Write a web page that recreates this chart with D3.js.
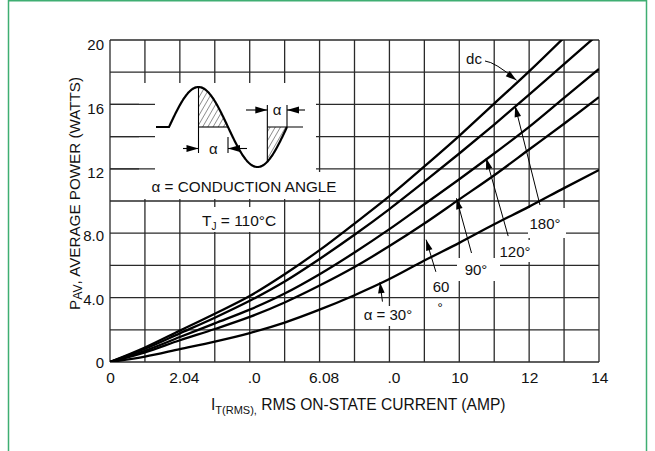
<!DOCTYPE html>
<html><head><meta charset="utf-8">
<script src="https://cdn.jsdelivr.net/npm/d3@7/dist/d3.min.js"></script>
<style>html,body{margin:0;padding:0;background:#fff;} svg{display:block;font-family:"Liberation Sans",Arial,sans-serif;}</style>
</head><body><svg id="chart" width="655" height="451"></svg>
<script>
// ---------- data ----------
const currents = [0,1,2,3,4,5,6,7,8,9,10,11,12,13,14];
const powerDC   = [0,0.9,1.95,3.0,4.1,5.45,6.95,8.6,10.3,12.15,14.05,16.05,18.05,20.15,22.3];
const power180  = [0,0.82,1.78,2.75,3.8,5.0,6.4,7.9,9.5,11.2,12.95,14.75,16.6,18.5,20.4];
const power120  = [0,0.7,1.55,2.4,3.25,4.25,5.45,6.8,8.25,9.8,11.35,12.95,14.6,16.4,18.2];
const power90   = [0,0.6,1.35,2.05,2.8,3.7,4.75,5.9,7.2,8.6,10.1,11.6,13.2,14.8,16.45];
const power30   = [0,0.33,0.8,1.27,1.8,2.45,3.25,4.15,5.15,6.3,7.4,8.55,9.65,10.8,11.93];
const seriesNames = ["dc","180°","120°","90°","α = 30°"];
const xTickValues = [0,2,4,6,8,10,12,14];
const xTickLabels = ["0","2.04",".0","6.08",".0","10","12","14"];
const yTickValues = [0,4,8,12,16,20];
const yTickLabels = ["0","4.0","8.0","12","16","20"];
// annotation arrows: [label, tip x, tip y, tail x, tail y] in data units
const arrowNotes = [
  ["180°", 11.6, 15.9, 12.31, 9.75],
  ["120°", 10.77, 12.65, 11.4, 7.82],
  ["90°",  9.92, 10.17, 10.35, 6.77],
  ["60",   9.05, 7.6,  9.33, 5.6],
  ["α = 30°", 7.73, 4.96, 7.8, 3.75]
];

// ---------- layout ----------
const svg = d3.select("#chart");
const x = d3.scaleLinear().domain([0,14]).range([110,599]);
const y = d3.scaleLinear().domain([0,20]).range([362,40]);
const gridColor = "#2a2a2a";
const ink = "#111";

// outer green frame
svg.append("rect").attr("x",8.5).attr("y",0.75).attr("width",638).attr("height",470)
  .attr("fill","none").attr("stroke","#3fae72").attr("stroke-width",1.5);

// grid
const grid = svg.append("g");
grid.selectAll(".vg").data(d3.range(0,15)).join("line")
  .attr("x1",d=>x(d)).attr("x2",d=>x(d)).attr("y1",y(0)).attr("y2",y(20))
  .attr("stroke",gridColor).attr("stroke-width",1.3);
grid.selectAll(".hg").data(d3.range(0,21,2)).join("line")
  .attr("x1",x(0)).attr("x2",x(14)).attr("y1",d=>y(d)).attr("y2",d=>y(d))
  .attr("stroke",gridColor).attr("stroke-width",1.3);

// white backgrounds (inset & labels) interrupting grid
const wb = svg.append("g").attr("fill","#fff");
wb.append("rect").attr("x",139).attr("y",83).attr("width",177).attr("height",89);
wb.append("rect").attr("x",139).attr("y",172).attr("width",200).attr("height",27);
wb.append("rect").attr("x",196).attr("y",207).attr("width",84).attr("height",25);
wb.append("rect").attr("x",528).attr("y",208).attr("width",38).attr("height",30);
wb.append("rect").attr("x",497).attr("y",240).attr("width",36).attr("height",22);
wb.append("rect").attr("x",457).attr("y",258).attr("width",43).attr("height",23);
wb.append("rect").attr("x",360).attr("y",306).attr("width",56).attr("height",20);
// horizontal stubs sticking into the inset on the left
svg.append("g").selectAll("line").data([16,14,12]).join("line")
  .attr("x1",x(0)).attr("x2",155).attr("y1",d=>y(d)).attr("y2",d=>y(d))
  .attr("stroke",gridColor).attr("stroke-width",1.3);

// curves
svg.append("clipPath").attr("id","plotclip").append("rect")
  .attr("x",x(0)).attr("y",y(20)).attr("width",x(14)-x(0)).attr("height",y(0)-y(20));
const series = [powerDC,power180,power120,power90,power30];
const line = d3.line().x((d,i)=>x(currents[i])).y(d=>y(d)).curve(d3.curveMonotoneX);
svg.append("g").attr("clip-path","url(#plotclip)").selectAll("path").data(series).join("path")
  .attr("d",line).attr("fill","none").attr("stroke","#000").attr("stroke-width",2.3);

// arrowhead helper
function arrowHead(g, tx, ty, fx, fy, len=10, half=3.2){
  const a = Math.atan2(ty-fy, tx-fx);
  const bx = tx - len*Math.cos(a), by = ty - len*Math.sin(a);
  const px = -Math.sin(a)*half, py = Math.cos(a)*half;
  g.append("path").attr("d",`M${tx},${ty}L${bx+px},${by+py}L${bx-px},${by-py}Z`).attr("fill","#000");
}
const ann = svg.append("g");
arrowNotes.forEach(n=>{
  const tx=x(n[1]), ty=y(n[2]), fx=x(n[3]), fy=y(n[4]);
  ann.append("line").attr("x1",fx).attr("y1",fy).attr("x2",tx).attr("y2",ty).attr("stroke","#000").attr("stroke-width",1);
  arrowHead(ann, tx, ty, fx, fy, 11, 3.3);
});
// dc leader
{
  const tx=x(11.64), ty=y(17.5);
  ann.append("path").attr("d",`M485,61 Q495,62 ${tx},${ty}`).attr("fill","none").attr("stroke","#000").attr("stroke-width",1);
  arrowHead(ann, tx, ty, 500, 68, 11, 3.3);
}
const lab = svg.append("g").attr("font-size",15).attr("fill",ink).attr("text-anchor","middle");
lab.append("text").attr("x",474).attr("y",64).text(seriesNames[0]);
lab.append("text").attr("x",545).attr("y",229).text(seriesNames[1]);
lab.append("text").attr("x",515).attr("y",257).text(seriesNames[2]);
lab.append("text").attr("x",476).attr("y",275).text(seriesNames[3]);
lab.append("text").attr("x",441).attr("y",292).text("60");
lab.append("text").attr("x",440).attr("y",312).attr("font-size",13).attr("fill","#000").text("°");
lab.append("text").attr("x",388).attr("y",320).text(seriesNames[4]);

// ---------- inset diagram ----------
const ins = svg.append("g");
const base = 127, xs = 169, P = 118, A = 40;
const sx = ph => xs + P*ph/360;
const sy = ph => base - A*Math.sin(ph*Math.PI/180);
const defs = svg.append("defs");
const pat = defs.append("pattern").attr("id","hatch").attr("patternUnits","userSpaceOnUse")
  .attr("width",4.5).attr("height",4.5).attr("patternTransform","rotate(30)");
pat.append("line").attr("x1",0).attr("y1",0).attr("x2",0).attr("y2",4.5).attr("stroke","#000").attr("stroke-width",0.8);
const shade1 = d3.range(90,181,3).map(p=>[sx(p),sy(p)]);
ins.append("path").attr("d","M"+sx(90)+","+base+"L"+shade1.map(d=>d.join(",")).join("L")+"Z").attr("fill","url(#hatch)");
const shade2 = d3.range(300,361,3).map(p=>[sx(p),sy(p)]);
ins.append("path").attr("d","M"+sx(300)+","+base+"L"+shade2.map(d=>d.join(",")).join("L")+"Z").attr("fill","url(#hatch)");
const wave = d3.range(0,361,2).map(p=>[sx(p),sy(p)]);
ins.append("path").attr("d","M156,"+base+"L"+wave.map(d=>d.join(",")).join("L")).attr("fill","none").attr("stroke","#000").attr("stroke-width",2.2);
const thin = (x1,y1,x2,y2)=>ins.append("line").attr("x1",x1).attr("y1",y1).attr("x2",x2).attr("y2",y2).attr("stroke","#000").attr("stroke-width",1.1);
thin(sx(90),sy(90),sx(90),153); thin(sx(90),base,sx(180),base);
thin(sx(180),137,sx(180),153);
thin(sx(300),105,sx(300),sy(300)); thin(sx(300),base,303,base); thin(sx(360),105,sx(360),base);
// dimension arrows
thin(183,148.5,sx(90),148.5); arrowHead(ins,sx(90),148.5,183,148.5,12,3.6);
thin(247,148.5,sx(180),148.5); arrowHead(ins,sx(180),148.5,247,148.5,12,3.6);
thin(246,110,sx(300),110); arrowHead(ins,sx(300),110,246,110,12,3.6);
thin(305,110,sx(360),110); arrowHead(ins,sx(360),110,305,110,12,3.6);
ins.append("text").attr("x",(sx(90)+sx(180))/2).attr("y",153.5).attr("text-anchor","middle").attr("font-size",15).attr("fill",ink).text("α");
ins.append("text").attr("x",(sx(300)+sx(360))/2).attr("y",114.5).attr("text-anchor","middle").attr("font-size",15).attr("fill",ink).text("α");
ins.append("text").attr("x",151.5).attr("y",192).attr("font-size",15.5).attr("fill",ink)
  .attr("textLength",185).attr("lengthAdjust","spacingAndGlyphs").text("α = CONDUCTION ANGLE");
const tj = ins.append("text").attr("x",202).attr("y",226).attr("font-size",15.5).attr("fill",ink);
tj.append("tspan").text("T");
tj.append("tspan").attr("font-size",10).attr("dy",4).text("J");
tj.append("tspan").attr("dy",-4).text(" = 110°C");

// ---------- axes ----------
const xAxis = d3.axisBottom(x).tickValues(xTickValues).tickSize(0).tickPadding(10)
  .tickFormat((d,i)=>xTickLabels[i]);
const gx = svg.append("g").attr("transform",`translate(0,${y(0)})`).call(xAxis);
gx.select(".domain").remove();
gx.selectAll("text").attr("font-size",15.5).attr("fill",ink).attr("font-family","Liberation Sans, Arial, sans-serif")
  .attr("text-anchor",(d,i)=> i===xTickValues.length-1 ? "end":"middle")
  .attr("dx",(d,i)=> i===xTickValues.length-1 ? 9 : (d>0 && d<10 ? 4 : 0));
const yAxis = d3.axisLeft(y).tickValues(yTickValues).tickSize(0).tickPadding(6)
  .tickFormat((d,i)=>yTickLabels[i]);
const gy = svg.append("g").attr("transform",`translate(${x(0)},0)`).call(yAxis);
gy.select(".domain").remove();
gy.selectAll("text").attr("font-size",15).attr("fill",ink).attr("font-family","Liberation Sans, Arial, sans-serif")
  .attr("dy",d=>(0.32*15+1+d*0.2)+"px");

// axis titles
const xt = svg.append("text").attr("x",211).attr("y",410).attr("font-size",15.6).attr("fill",ink);
xt.append("tspan").text("I");
xt.append("tspan").attr("font-size",11).attr("dy",4).text("T(RMS),");
xt.append("tspan").attr("dy",-4).text(" RMS ON-STATE CURRENT (AMP)");
const yt = svg.append("text").attr("transform","translate(80,310) rotate(-90)").attr("font-size",15.5).attr("fill",ink)
  .attr("textLength",233).attr("lengthAdjust","spacingAndGlyphs");
yt.append("tspan").text("P");
yt.append("tspan").attr("font-size",12.5).attr("dy",2).text("AV");
yt.append("tspan").attr("dy",-2).text(", AVERAGE POWER (WATTS)");
</script></body></html>
